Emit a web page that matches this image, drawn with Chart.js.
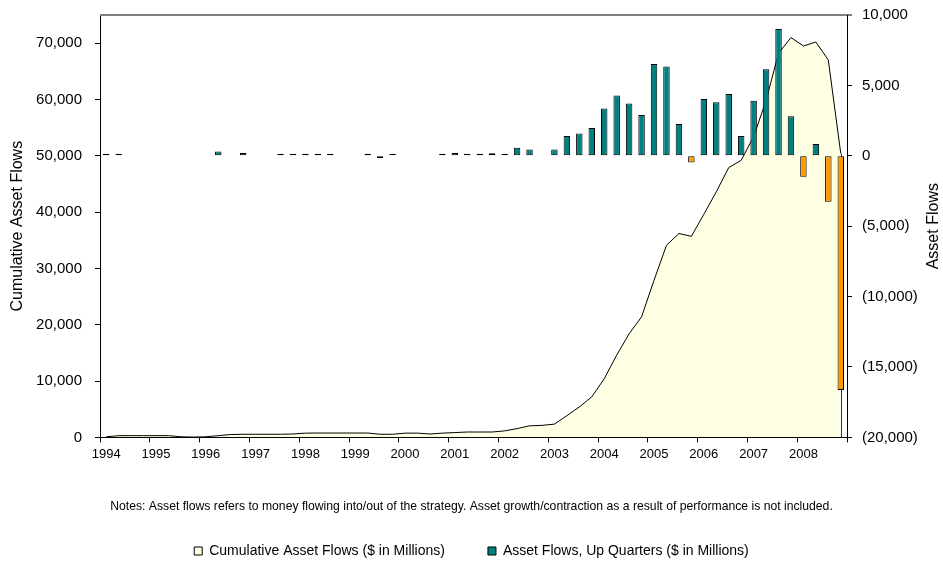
<!DOCTYPE html>
<html>
<head>
<meta charset="utf-8">
<script src="https://cdn.jsdelivr.net/npm/chart.js@4.4.1/dist/chart.umd.min.js"></script>
<style>
  html, body { margin: 0; padding: 0; background: #ffffff; }
  #wrap { width: 943px; height: 563px; }
</style>
</head>
<body>
<div id="wrap"><canvas id="c" width="943" height="563"></canvas></div>
<script>
// Years shown on the axis; each year holds four quarters
const years = [1994, 1995, 1996, 1997, 1998, 1999, 2000, 2001, 2002, 2003, 2004, 2005, 2006, 2007, 2008];
const quarters = ['Q1', 'Q2', 'Q3', 'Q4'];

// Net asset flow per quarter, $ millions (1994 Q1 .. 2008 Q4)
const assetFlows = [
  150, 150, null, null,      // 1994
  null, null, null, null,    // 1995
  null, 300, null, 200,      // 1996
  null, null, 150, 150,      // 1997
  150, 150, 150, null,       // 1998
  null, 150, -150, 150,      // 1999
  null, null, null, 150,     // 2000
  200, 150, 150, 180,        // 2001
  150, 570, 450, null,       // 2002
  450, 1400, 1590, 1970,     // 2003
  3360, 4290, 3720, 2890,    // 2004
  6520, 6350, 2250, -470,    // 2005
  4030, 3810, 4380, 1400,    // 2006
  3910, 6140, 9000, 2800,    // 2007
  -1490, 830, -3270, -16630  // 2008
];

// Cumulative asset flows at each quarter, $ millions
const cumulativeFlows = [
  100, 300, 300, 300,
  300, 300, 100, 50,
  100, 300, 500, 550,
  550, 550, 550, 600,
  750, 770, 770, 770,
  770, 770, 550, 550,
  750, 750, 600, 750,
  850, 950, 950, 950,
  1150, 1550, 2050, 2130,
  2350, 3850, 5400, 7200,
  10400, 14600, 18400, 21400,
  27900, 34100, 36200, 35700,
  39600, 43600, 47900, 49200,
  53400, 59800, 68200, 71000,
  69500, 70200, 67000, 50400
];

// Axis ranges and tick values
const leftAxisRange = [0, 75000];
const leftTickValues = [0, 10000, 20000, 30000, 40000, 50000, 60000, 70000];
const rightAxisRange = [-20000, 10000];
const rightTickValues = [-20000, -15000, -10000, -5000, 0, 5000, 10000];

const legendLabels = ['Cumulative Asset Flows ($ in Millions)', 'Asset Flows, Up Quarters ($ in Millions)'];
const notesText = 'Notes: Asset flows refers to money flowing into/out of the strategy. Asset growth/contraction as a result of performance is not included.';

const quarterLabels = years.flatMap(y => quarters.map(q => y + ' ' + q));

const TEAL = '#008080';
const ORANGE = '#FF9900';
const CREAM = '#FFFFE3';
const FONT = '"Liberation Sans", Arial, sans-serif';

const fmtRight = v => {
  if (v === 0) return '0';
  const s = Math.abs(v).toLocaleString('en-US');
  return v < 0 ? '(' + s + ')' : s;
};

// Closes the cumulative area with its right-hand vertical edge
const areaEdge = {
  id: 'areaEdge',
  afterDatasetDraw(chart, args) {
    if (args.index !== 0) return;
    const pts = args.meta.data;
    const last = pts[pts.length - 1];
    const base = chart.scales.yL.getPixelForValue(0);
    const ctx = chart.ctx;
    ctx.save();
    ctx.strokeStyle = '#333333';
    ctx.lineWidth = 1;
    ctx.beginPath();
    ctx.moveTo(Math.round(last.x) + 0.5, last.y);
    ctx.lineTo(Math.round(last.x) + 0.5, base);
    ctx.stroke();
    ctx.restore();
  }
};

// Grey frame line along the top of the plot, and the right axis title
const frameAndTitle = {
  id: 'frameAndTitle',
  afterDraw(chart) {
    const area = chart.chartArea;
    const s = chart.scales.yR;
    const ctx = chart.ctx;
    ctx.save();
    ctx.strokeStyle = '#808080';
    ctx.lineWidth = 2;
    ctx.beginPath();
    ctx.moveTo(area.left, area.top);
    ctx.lineTo(area.right + 5, area.top);
    ctx.stroke();
    ctx.strokeStyle = '#000';
    ctx.lineWidth = 1;
    ctx.beginPath();
    ctx.moveTo(area.right + 0.5, area.top);
    ctx.lineTo(area.right + 0.5, area.bottom);
    ctx.stroke();

    ctx.translate(s.right - 9, (area.top + area.bottom) / 2);
    ctx.rotate(-Math.PI / 2);
    ctx.fillStyle = '#000';
    ctx.font = '16px ' + FONT;
    ctx.textAlign = 'center';
    ctx.textBaseline = 'middle';
    ctx.fillText('Asset Flows', 0, 0);
    ctx.restore();
  }
};

// Nudge the legend block (notes line + key) down a little
const legendShift = {
  id: 'legendShift',
  afterUpdate(chart) {
    const lg = chart.legend;
    lg.top += 5;
    lg.bottom += 5;
  }
};

// Tick labels overhanging the plot ends should not push the plot inwards
const noOverhang = s => { s.paddingTop = 0; s.paddingBottom = 0; };

new Chart(document.getElementById('c'), {
  type: 'bar',
  data: {
    labels: quarterLabels,
    datasets: [
      {
        type: 'line',
        label: legendLabels[0],
        data: cumulativeFlows,
        yAxisID: 'yL',
        xAxisID: 'x',
        borderColor: '#000000',
        borderWidth: 1,
        backgroundColor: CREAM,
        fill: 'origin',
        pointRadius: 0,
        tension: 0,
        order: 2
      },
      {
        type: 'bar',
        label: legendLabels[1],
        data: assetFlows,
        yAxisID: 'yR',
        xAxisID: 'x',
        backgroundColor: assetFlows.map(v => (v !== null && v < 0) ? ORANGE : TEAL),
        borderColor: '#000000',
        borderWidth: 1,
        borderSkipped: false,
        barPercentage: 0.52,
        categoryPercentage: 1,
        order: 1
      }
    ]
  },
  options: {
    responsive: false,
    animation: false,
    devicePixelRatio: 1,
    layout: { padding: { top: 15, left: 0, right: 0, bottom: 0 } },
    plugins: {
      tooltip: { enabled: false },
      title: { display: false },
      legend: {
        display: true,
        position: 'bottom',
        align: 'center',
        title: {
          display: true,
          text: notesText,
          position: 'center',
          color: '#000',
          font: { family: FONT, size: 12.2 },
          padding: { top: 0, bottom: 0 }
        },
        labels: {
          color: '#000',
          font: { family: FONT, size: 14 },
          boxWidth: 8,
          boxHeight: 8,
          padding: 29,
          generateLabels: () => [
            { text: legendLabels[0] + '\u2002\u2002', fillStyle: CREAM, strokeStyle: '#000', lineWidth: 1, datasetIndex: 0 },
            { text: legendLabels[1], fillStyle: TEAL, strokeStyle: '#000', lineWidth: 1, datasetIndex: 1 }
          ]
        }
      }
    },
    scales: {
      x: {
        type: 'category',
        position: 'bottom',
        offset: true,
        afterFit: s => { s.height = 58; },
        grid: {
          display: true,
          offset: true,
          drawOnChartArea: false,
          drawTicks: true,
          tickLength: 5,
          tickColor: ctx => (ctx.index === undefined || ctx.index % 4 === 0) ? '#000' : 'rgba(0,0,0,0)'
        },
        border: { display: true, color: '#000', width: 1 },
        ticks: {
          autoSkip: false,
          maxRotation: 0,
          minRotation: 0,
          padding: 4,
          color: '#000',
          font: { family: FONT, size: 13 },
          callback: (v, i) => (i % 4 === 0 ? String(years[i / 4]) : '')
        }
      },
      yL: {
        type: 'linear',
        position: 'left',
        min: leftAxisRange[0],
        max: leftAxisRange[1],
        afterFit: s => { s.width = 100; noOverhang(s); },
        afterBuildTicks: s => { s.ticks = leftTickValues.map(v => ({ value: v })); },
        grid: { drawOnChartArea: false, drawTicks: true, tickLength: 5, tickColor: '#000' },
        border: { display: true, color: '#000', width: 1 },
        ticks: {
          autoSkip: false,
          padding: 13,
          color: '#000',
          font: { family: FONT, size: 15 },
          callback: v => v.toLocaleString('en-US')
        },
        title: {
          display: true,
          text: 'Cumulative Asset Flows',
          color: '#000',
          font: { family: FONT, size: 16 },
          padding: { top: 8, bottom: 0 }
        }
      },
      yR: {
        type: 'linear',
        position: 'right',
        min: rightAxisRange[0],
        max: rightAxisRange[1],
        afterFit: s => { s.width = 96; noOverhang(s); },
        afterBuildTicks: s => { s.ticks = rightTickValues.map(v => ({ value: v })); },
        grid: { drawOnChartArea: false, drawTicks: true, tickLength: 5, tickColor: '#000' },
        border: { display: true, color: '#000', width: 1 },
        ticks: {
          autoSkip: false,
          padding: 10,
          color: '#000',
          font: { family: FONT, size: 15 },
          callback: v => fmtRight(v)
        }
      }
    }
  },
  plugins: [areaEdge, frameAndTitle, legendShift]
});
</script>
</body>
</html>
